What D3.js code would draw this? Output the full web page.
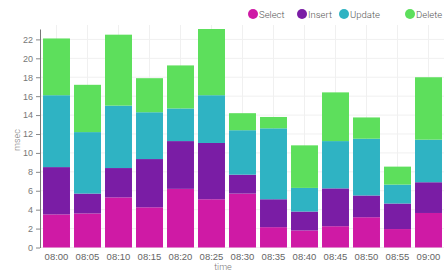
<!DOCTYPE html>
<html><head><meta charset="utf-8">
<script src="https://cdn.jsdelivr.net/npm/d3@7"></script>
<style>body{margin:0;background:#fff}svg{display:block;font-family:Roboto,"Noto Sans",sans-serif}</style>
</head><body><svg id="c" width="446" height="271"></svg>
<script>
const times = ["08:00","08:05","08:10","08:15","08:20","08:25","08:30","08:35","08:40","08:45","08:50","08:55","09:00"];
const seriesNames = ["Select","Insert","Update","Delete"];
const selectVals = [3.5,3.6,5.3,4.25,6.2,5.1,5.7,2.15,1.8,2.25,3.2,1.95,3.65];
const insertVals = [5.0,2.1,3.1,5.1,5.05,5.95,2.0,2.95,2.0,4.0,2.3,2.7,3.25];
const updateVals = [7.6,6.5,6.6,4.95,3.45,5.05,4.7,7.5,2.5,5.0,6.0,2.0,4.5];
const deleteVals = [6.0,5.0,7.5,3.6,4.55,7.0,1.8,1.2,4.5,5.15,2.25,1.9,6.6];
const yTicks = [0,2,4,6,8,10,12,14,16,18,20,22];
const colors = ["#cf1aa5","#7a1da5","#2fb3c3","#5ddf5c"];

const rows = times.map((t,i)=>({time:t, Select:selectVals[i], Insert:insertVals[i], Update:updateVals[i], Delete:deleteVals[i]}));
const stack = d3.stack().keys(seriesNames)(rows);
const maxTotal = d3.max(stack[stack.length-1], d=>d[1]);

const svg = d3.select("#c");
const x = d3.scaleBand().domain(times).range([41,444]).paddingInner(0.13).paddingOuter(0.065);
const y = d3.scaleLinear().domain([0, maxTotal]).range([247.5, 29]);
const color = d3.scaleOrdinal().domain(seriesNames).range(colors);

// grid
svg.append("g").selectAll("line.h").data(yTicks).join("line")
  .attr("x1",41).attr("x2",444).attr("y1",d=>y(d)).attr("y2",d=>y(d))
  .attr("stroke","#f0f0f0").attr("stroke-width",1);
svg.append("g").selectAll("line.v").data(times).join("line")
  .attr("x1",d=>x(d)+x.bandwidth()/2).attr("x2",d=>x(d)+x.bandwidth()/2)
  .attr("y1",25).attr("y2",247.5)
  .attr("stroke","#f0f0f0").attr("stroke-width",1);

// bars
svg.append("g").selectAll("g").data(stack).join("g")
  .attr("fill",d=>color(d.key))
  .selectAll("rect").data(d=>d).join("rect")
  .attr("x",d=>x(d.data.time)).attr("width",x.bandwidth())
  .attr("y",d=>y(d[1])).attr("height",d=>y(d[0])-y(d[1]));

// y axis
const ya = svg.append("g").attr("transform","translate(40,0)")
  .call(d3.axisLeft(y).tickValues(yTicks).tickSize(4).tickPadding(3).tickSizeOuter(0));
ya.select(".domain").attr("stroke","#777");
ya.selectAll(".tick line").attr("stroke","#888");
ya.selectAll("text").attr("fill","#777").style("font-size","9px").style("font-weight","300");

// x axis
const xa = svg.append("g").attr("transform","translate(0,247.5)")
  .call(d3.axisBottom(x).tickSize(0).tickPadding(6));
xa.select(".domain").remove();
xa.selectAll("text").attr("fill","#666").style("font-size","9.5px").style("font-weight","300");

svg.append("text").attr("x",223).attr("y",270).attr("text-anchor","middle")
  .attr("fill","#777").style("font-size","9px").style("font-weight","300").text("time");
svg.append("text").attr("transform","translate(20,140) rotate(-90)").attr("text-anchor","middle")
  .attr("fill","#777").style("font-size","9px").style("font-weight","300").text("msec");

// legend
const legendX = [253,302,344,410];
const lg = svg.append("g").selectAll("g").data(seriesNames).join("g")
  .attr("transform",(d,i)=>`translate(${legendX[i]},14)`);
lg.append("circle").attr("r",5).attr("fill",d=>color(d));
lg.append("text").attr("x",6).attr("y",3.5).attr("fill","#555").style("font-size","9.5px").style("font-weight","300").text(d=>d);
</script></body></html>
